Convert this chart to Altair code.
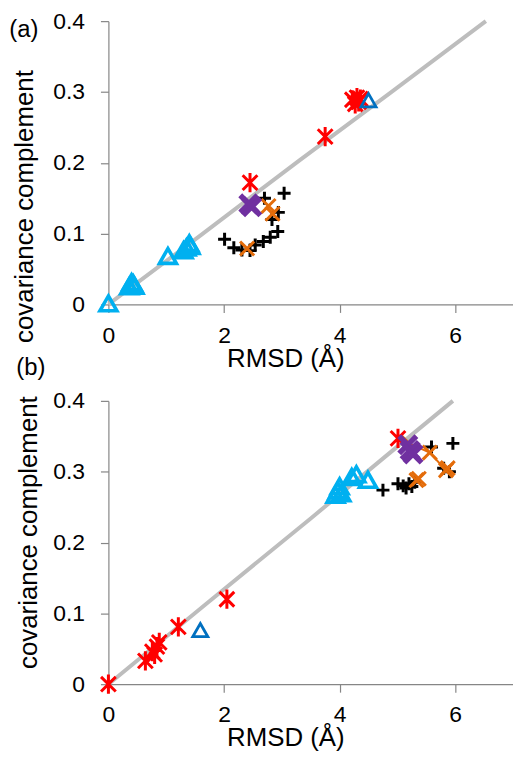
import altair as alt
import pandas as pd

FONT = "Liberation Sans"

# ---------------- Panel (a) ----------------
a_line_x = [0.0, 1.6, 3.3, 4.9, 6.53]
a_line_y = [0.0, 0.098, 0.203, 0.300, 0.400]

a_cyan_x = [0.0, 0.36, 0.40, 0.43, 0.45, 1.03, 1.30, 1.35, 1.40, 1.42]
a_cyan_y = [0.0, 0.024, 0.030, 0.028, 0.025, 0.067, 0.075, 0.079, 0.085, 0.081]

a_blue_x = [4.50]
a_blue_y = [0.287]

a_red_x = [2.45, 3.75, 4.22, 4.27, 4.30, 4.33, 4.36]
a_red_y = [0.172, 0.237, 0.289, 0.283, 0.292, 0.286, 0.290]

a_purple_x = [2.43, 2.48]
a_purple_y = [0.142, 0.138]

a_orange_x = [2.40, 2.77, 2.84]
a_orange_y = [0.079, 0.139, 0.128]

a_black_x = [2.01, 2.17, 2.31, 2.45, 2.54, 2.68, 2.80, 2.93, 2.70, 2.83, 2.94, 3.04]
a_black_y = [0.092, 0.080, 0.077, 0.076, 0.084, 0.089, 0.095, 0.103, 0.150, 0.120, 0.130, 0.157]

# ---------------- Panel (b) ----------------
b_line_x = [0.0, 1.7, 3.5, 4.8, 5.96]
b_line_y = [0.0, 0.114, 0.234, 0.322, 0.400]

b_red_x = [0.0, 0.64, 0.76, 0.80, 0.84, 0.88, 1.21, 2.05, 5.01]
b_red_y = [0.0, 0.033, 0.046, 0.042, 0.053, 0.059, 0.081, 0.120, 0.347]

b_blue_x = [1.59]
b_blue_y = [0.075]

b_cyan_x = [3.93, 3.97, 4.00, 4.03, 4.21, 4.29, 4.49]
b_cyan_y = [0.266, 0.272, 0.278, 0.268, 0.291, 0.295, 0.287]

b_purple_x = [5.18, 5.22, 5.27]
b_purple_y = [0.338, 0.330, 0.325]

b_orange_line_x = [5.20, 5.56, 5.84]
b_orange_line_y = [0.340, 0.327, 0.302]
b_orange_x = [5.20, 5.56, 5.84, 5.87, 5.33, 5.37]
b_orange_y = [0.340, 0.327, 0.302, 0.305, 0.288, 0.290]

b_black_x = [4.75, 5.01, 5.10, 5.15, 5.20, 5.25, 5.30, 5.59, 5.96, 5.80, 5.90]
b_black_y = [0.274, 0.283, 0.280, 0.277, 0.283, 0.279, 0.285, 0.335, 0.340, 0.305, 0.300]

x_ticks = [0, 2, 4, 6]
y_ticks = [0, 0.1, 0.2, 0.3, 0.4]

STAR = "M-1,-1L1,1M-1,1L1,-1M0,-1.3L0,1.3"
XSH = "M-1,-1L1,1M-1,1L1,-1"
PLUS = "M-1,0L1,0M0,-1L0,1"
TRI = "M0,-1L1,0.75L-1,0.75Z"

RED = "#FF0000"
CYAN = "#00B0F0"
BLUE = "#0070C0"
PURPLE = "#7030A0"
ORANGE = "#E46C0A"
BLACK = "#000000"
GRAY = "#BDBDBD"


def df(xs, ys):
    return pd.DataFrame({"x": xs, "y": ys})


def encs(title_x, title_y):
    xe = alt.X("x:Q", scale=alt.Scale(domain=[0, 7], nice=False, zero=False),
               axis=alt.Axis(values=x_ticks, format="d", title="RMSD (Å)",
                             titleX=178, titleY=54, titleBaseline="middle",
                             titleAlign="center", labelPadding=12,
                             labelFlush=False))
    ye = alt.Y("y:Q", scale=alt.Scale(domain=[0, 0.4], nice=False),
               axis=alt.Axis(values=y_ticks, format=".1~f", title="covariance complement",
                             titleX=title_x, titleY=title_y, titleAngle=270,
                             titleBaseline="middle", titleAlign="center",
                             labelPadding=16, labelFlush=False))
    return xe, ye


def pts(d, shape, color, size, sw, xe, ye):
    return alt.Chart(d).mark_point(shape=shape, filled=False, stroke=color,
                                   strokeWidth=sw, size=size, opacity=1,
                                   strokeCap="butt").encode(x=xe, y=ye)


def label(txt, px, py):
    return alt.Chart(pd.DataFrame({"t": [txt]})).mark_text(
        font=FONT, fontSize=24, align="center", baseline="middle", color="black"
    ).encode(text="t:N", x=alt.value(px), y=alt.value(py))


xa, ya = encs(-84, 186)
panel_a = alt.layer(
    alt.Chart(df(a_line_x, a_line_y)).mark_line(color=GRAY, strokeWidth=4).encode(x=xa, y=ya),
    pts(df(a_black_x, a_black_y), PLUS, BLACK, 170, 3, xa, ya),
    pts(df(a_orange_x, a_orange_y), XSH, ORANGE, 200, 3, xa, ya),
    pts(df(a_red_x, a_red_y), STAR, RED, 220, 3, xa, ya),
    pts(df(a_purple_x, a_purple_y), XSH, PURPLE, 300, 5.5, xa, ya),
    pts(df(a_cyan_x, a_cyan_y), TRI, CYAN, 290, 3.6, xa, ya),
    pts(df(a_blue_x, a_blue_y), TRI, BLUE, 230, 2.8, xa, ya),
    label("(a)", -85, 9),
).properties(width=407, height=285)

xb, yb = encs(-80, 132)
panel_b = alt.layer(
    alt.Chart(df(b_line_x, b_line_y)).mark_line(color=GRAY, strokeWidth=4).encode(x=xb, y=yb),
    pts(df(b_black_x, b_black_y), PLUS, BLACK, 170, 3, xb, yb),
    alt.Chart(df(b_orange_line_x, b_orange_line_y)).mark_line(color=ORANGE, strokeWidth=2).encode(x=xb, y=yb),
    pts(df(b_orange_x, b_orange_y), XSH, ORANGE, 200, 3, xb, yb),
    pts(df(b_red_x, b_red_y), STAR, RED, 220, 3, xb, yb),
    pts(df(b_purple_x, b_purple_y), XSH, PURPLE, 300, 5.5, xb, yb),
    pts(df(b_cyan_x, b_cyan_y), TRI, CYAN, 290, 3.6, xb, yb),
    pts(df(b_blue_x, b_blue_y), TRI, BLUE, 230, 2.8, xb, yb),
    label("(b)", -78, -33),
).properties(width=407, height=285)

chart = alt.vconcat(panel_a, panel_b, spacing=97, bounds="flush").properties(
    padding={"left": 1, "top": 0, "right": 0, "bottom": 0}
).configure_view(stroke=None).configure_axis(
    grid=False,
    domainColor="#868686",
    tickColor="#868686",
    domainWidth=1.2,
    tickWidth=1.2,
    tickSize=8,
    labelFont=FONT,
    labelFontSize=23,
    labelColor="black",
    titleFont=FONT,
    titleFontSize=26,
    titleFontWeight="normal",
    titleColor="black",
)

chart.save("out.html", embed_options={"renderer": "svg", "actions": False})
